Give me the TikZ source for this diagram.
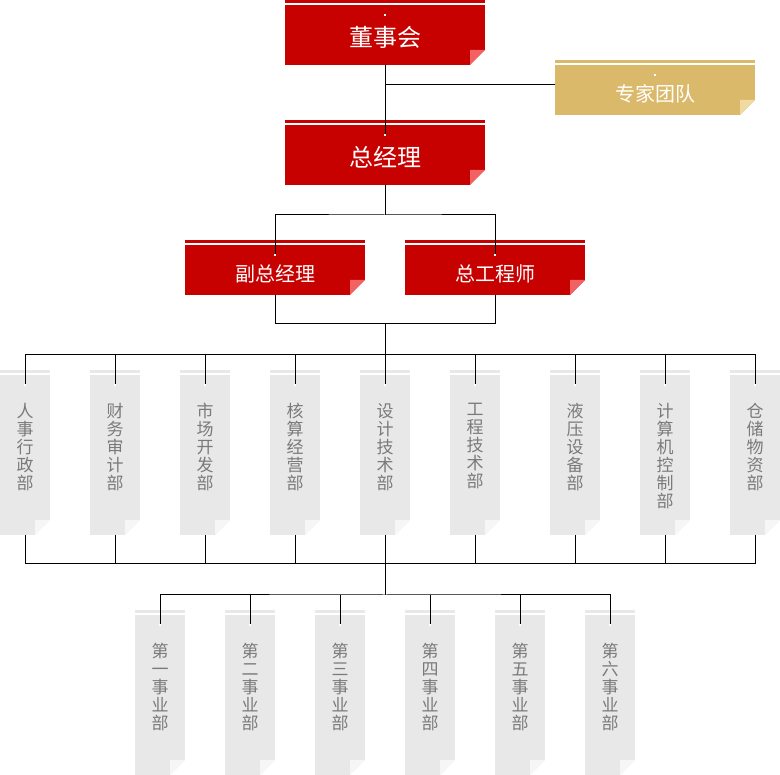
\documentclass[tikz,border=0pt]{standalone}
\usepackage{fontspec}
\setmainfont{Noto Sans CJK SC}
\usetikzlibrary{positioning}

\definecolor{boardred}{HTML}{C70000}
\definecolor{foldred}{HTML}{F26262}
\definecolor{gold}{HTML}{DBB96B}
\definecolor{foldgold}{HTML}{F0D9A3}
\definecolor{paper}{HTML}{E8E8E8}
\definecolor{foldpaper}{HTML}{F6F6F6}
\definecolor{ink}{HTML}{7A7A7A}

% stripe on top, folded corner, pin coordinate
\newcommand{\sheet}[3]{%
  \fill[#2] ([yshift=2pt]#1.north west) rectangle ([yshift=4.5pt]#1.north east);
  \fill[white] (#1.south east) -- ++(-15pt,0pt) -- ++(15pt,15pt) -- cycle;
  \fill[#3] ([xshift=-15pt]#1.south east) -- ++(15pt,15pt) -- ++(-15pt,0pt) -- cycle;
  \coordinate (p-#1) at ([yshift=-10pt]#1.north);
}

\begin{document}
\begin{tikzpicture}
	[x=1pt, y=1pt, node distance=40pt,
	 redbox/.style={fill=boardred, text=white, minimum width=200pt, minimum height=60pt,
	   inner sep=0pt, outer sep=0pt, text height=23pt, text depth=0pt,
	   font=\fontsize{24pt}{28pt}\selectfont},
	 midbox/.style={redbox, minimum width=180pt, minimum height=50pt, font=\fontsize{20pt}{24pt}\selectfont},
	 goldbox/.style={midbox, fill=gold, minimum width=200pt},
	 greybox/.style={fill=paper, minimum width=50pt, minimum height=160pt, inner sep=0pt, outer sep=0pt},
	 vtext/.style={text=ink, align=center, inner sep=0pt, font=\fontsize{17pt}{18pt}\selectfont},
	 wire/.style={draw=black, line width=1pt}]
   \useasboundingbox (0,0) rectangle (780,-775);

   \node[redbox] (board) at (385,-35) {董事会};
   \node[redbox] (gm) [below=60pt of board] {总经理};
   \node[goldbox] (expert) [below right=0pt and 70pt of board] {专家团队};
   \node[midbox] (vgm) [below left=60pt and 20pt of gm.south] {副总经理};
   \node[midbox] (chief) [below right=60pt and 20pt of gm.south] {总工程师};

   \node[greybox] (d5) [below=190pt of gm.south] {};
   \node[greybox] (d4) [left=of d5] {};
   \node[greybox] (d3) [left=of d4] {};
   \node[greybox] (d2) [left=of d3] {};
   \node[greybox] (d1) [left=of d2] {};
   \node[greybox] (d6) [right=of d5] {};
   \node[greybox] (d7) [right=50pt of d6] {};
   \node[greybox] (d8) [right=of d7] {};
   \node[greybox] (d9) [right=of d8] {};

   \node[greybox] (b1) [below left=80pt and 200pt of d5.south] {};
   \node[greybox] (b2) [right=of b1] {};
   \node[greybox] (b3) [right=of b2] {};
   \node[greybox] (b4) [right=of b3] {};
   \node[greybox] (b5) [right=of b4] {};
   \node[greybox] (b6) [right=of b5] {};

   \node[vtext] (d1-txt) [below=28pt of d1.north] {人\\事\\行\\政\\部};
   \node[vtext] (d2-txt) [below=28pt of d2.north] {财\\务\\审\\计\\部};
   \node[vtext] (d3-txt) [below=28pt of d3.north] {市\\场\\开\\发\\部};
   \node[vtext] (d4-txt) [below=28pt of d4.north] {核\\算\\经\\营\\部};
   \node[vtext] (d5-txt) [below=28pt of d5.north] {设\\计\\技\\术\\部};
   \node[vtext] (d6-txt) [below=28pt of d6.north] {工\\程\\技\\术\\部};
   \node[vtext] (d7-txt) [below=28pt of d7.north] {液\\压\\设\\备\\部};
   \node[vtext] (d8-txt) [below=28pt of d8.north] {计\\算\\机\\控\\制\\部};
   \node[vtext] (d9-txt) [below=28pt of d9.north] {仓\\储\\物\\资\\部};
   \node[vtext] (b1-txt) [below=28pt of b1.north] {第\\一\\事\\业\\部};
   \node[vtext] (b2-txt) [below=28pt of b2.north] {第\\二\\事\\业\\部};
   \node[vtext] (b3-txt) [below=28pt of b3.north] {第\\三\\事\\业\\部};
   \node[vtext] (b4-txt) [below=28pt of b4.north] {第\\四\\事\\业\\部};
   \node[vtext] (b5-txt) [below=28pt of b5.north] {第\\五\\事\\业\\部};
   \node[vtext] (b6-txt) [below=28pt of b6.north] {第\\六\\事\\业\\部};

   \sheet{board}{boardred}{foldred}
   \sheet{gm}{boardred}{foldred}
   \sheet{expert}{gold}{foldgold}
   \sheet{vgm}{boardred}{foldred}
   \sheet{chief}{boardred}{foldred}
   \sheet{d1}{paper}{foldpaper} \sheet{d2}{paper}{foldpaper} \sheet{d3}{paper}{foldpaper}
   \sheet{d4}{paper}{foldpaper} \sheet{d5}{paper}{foldpaper} \sheet{d6}{paper}{foldpaper}
   \sheet{d7}{paper}{foldpaper} \sheet{d8}{paper}{foldpaper} \sheet{d9}{paper}{foldpaper}
   \sheet{b1}{paper}{foldpaper} \sheet{b2}{paper}{foldpaper} \sheet{b3}{paper}{foldpaper}
   \sheet{b4}{paper}{foldpaper} \sheet{b5}{paper}{foldpaper} \sheet{b6}{paper}{foldpaper}

   \coordinate (tap) at ([yshift=5pt]expert.west);
   \coordinate[below=30pt of gm.south] (j1);
   \coordinate[below=29pt of vgm.south] (j2);
   \coordinate[above=20pt of d1.north] (bus1);
   \coordinate[below=29pt of d1.south] (bus2);
   \coordinate[below=60pt of d5.south] (bus3);

   \draw[wire] (board) -- (p-gm);
   \draw[wire] (tap) -- (tap -| board);
   \draw[wire] (gm) -- (j1);
   \draw[wire] (p-vgm) |- (j1) -| (p-chief);
   \draw[wire] (vgm) -- (j2) -| (chief);
   \draw[wire] (j2 -| gm) -- (p-d5);
   \draw[wire] (p-d1) |- (bus1) -| (p-d9);
   \foreach \n in {2,...,8} \draw[wire] (p-d\n) -- (p-d\n |- bus1);
   \draw[wire] (d1) -- (bus2) -| (d9);
   \foreach \n in {2,...,8} \draw[wire] (d\n) -- (d\n |- bus2);
   \draw[wire] (d5) -- (bus3);
   \draw[wire] (p-b1) |- (bus3) -| (p-b6);
   \foreach \n in {2,...,5} \draw[wire] (p-b\n) -- (p-b\n |- bus3);

   % white pins
   \foreach \n in {board,gm,expert,vgm,chief,d1,d2,d3,d4,d5,d6,d7,d8,d9,b1,b2,b3,b4,b5,b6}
     \fill[white] (p-\n) +(-1pt,-1pt) rectangle +(1pt,1pt);
\end{tikzpicture}
\end{document}
